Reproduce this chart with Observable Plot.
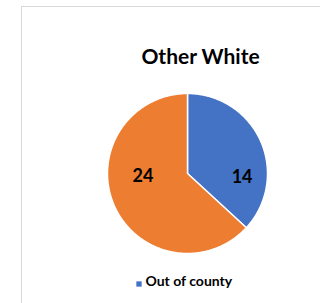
<!DOCTYPE html>
<html><head><meta charset="utf-8">
<script src="https://cdn.jsdelivr.net/npm/d3@7"></script>
<script src="https://cdn.jsdelivr.net/npm/@observablehq/plot@0.6"></script>
<style>
html,body{margin:0;padding:0;background:#fff;width:320px;height:303px;overflow:hidden;}
#frame{position:absolute;left:21px;top:6px;width:400px;height:400px;border:1.5px solid #d9d9d9;box-sizing:border-box;}
#chart{position:absolute;left:0;top:0;}
</style></head>
<body>
<div id="frame"></div>
<div id="chart"></div>
<script>
const title = "Other White";
const categories = ["Out of county", "In county"];
const values = [14, 24];
const colors = ["#4472C4", "#ED7D31"];
const legendLabels = ["Out of county"];

const FONT = "Lato, 'Open Sans', sans-serif";
const pie = d3.pie().sort(null).value(d => d.value)(categories.map((c, i) => ({cat: c, value: values[i]})));

// Build polygon vertices for each slice (angles clockwise from 12 o'clock)
const pts = [];
pie.forEach((s, i) => {
  const n = Math.max(2, Math.ceil((s.endAngle - s.startAngle) / 0.01));
  pts.push({cat: s.data.cat, x: 0, y: 0});
  for (let k = 0; k <= n; k++) {
    const a = s.startAngle + (s.endAngle - s.startAngle) * k / n;
    pts.push({cat: s.data.cat, x: Math.sin(a), y: Math.cos(a)});
  }
  pts.push({cat: s.data.cat, x: 0, y: 0});
});

const labelR = 0.62, labelShift = 0.42;
const labels = pie.map(s => {
  const a = (s.startAngle + s.endAngle) / 2 + labelShift;
  return {x: Math.sin(a) * labelR, y: Math.cos(a) * labelR, text: String(s.data.value)};
});

const plot = Plot.plot({
  width: 320, height: 303,
  marginLeft: 107, marginRight: 53, marginTop: 93, marginBottom: 50,
  x: {domain: [-1, 1], axis: null},
  y: {domain: [-1, 1], axis: null},
  color: {domain: categories, range: colors},
  style: {fontFamily: FONT, background: "transparent"},
  marks: [
    Plot.line(pts, {x: "x", y: "y", z: "cat", fill: "cat", stroke: "white", strokeWidth: 1.5, curve: "linear"}),
    Plot.text(labels, {x: "x", y: "y", text: "text", dx: 5, dy: 3, fontSize: 18, fontWeight: "bold", fill: "#000"}),
    Plot.text([title], {frameAnchor: "top", dx: 13, dy: -44, fontSize: 21, fontWeight: "bold", fill: "#000"}),
    Plot.dot(legendLabels, {frameAnchor: "bottom-left", dx: 31.5, dy: 30.5, symbol: "square", r: 3, fill: colors[0], stroke: null}),
    Plot.text(legendLabels, {frameAnchor: "bottom-left", dx: 38, dy: 32, textAnchor: "start", fontSize: 14, fontWeight: "bold", fill: "#000"})
  ]
});
document.getElementById("chart").appendChild(plot);
</script>
</body></html>
